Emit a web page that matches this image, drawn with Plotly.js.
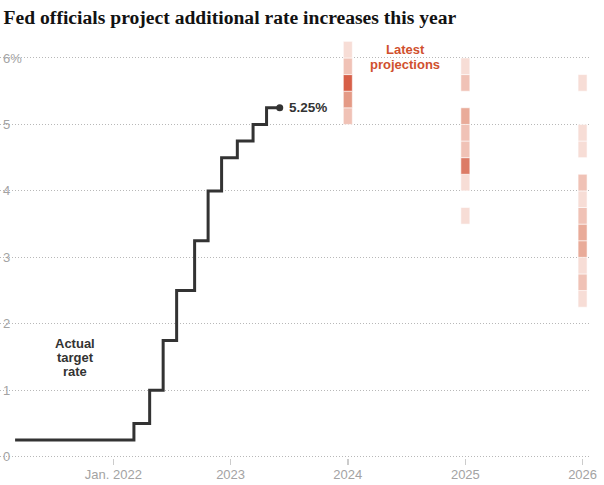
<!DOCTYPE html>
<html>
<head>
<meta charset="utf-8">
<script src="https://cdn.plot.ly/plotly-3.0.1.min.js"></script>
<style>html,body{margin:0;padding:0;background:#fff;}#chart{width:604px;height:485px;}</style>
</head>
<body>
<div id="chart"></div>
<script>
// Actual fed funds target rate (upper bound), step changes
const rateDates = ['2021-03-12','2022-03-17','2022-05-05','2022-06-16','2022-07-28','2022-09-22','2022-11-03','2022-12-15','2023-02-02','2023-03-23','2023-05-04','2023-06-14'];
const rateValues = [0.25, 0.5, 1.0, 1.75, 2.5, 3.25, 4.0, 4.5, 4.75, 5.0, 5.25, 5.25];

// Latest projections: lower bound of each 0.25-pt bin and number of officials
const projColumns = ['2024-01-12', '2025-01-12', '2026-01-12'];
const projBins = [
  [5.0, 5.25, 5.5, 5.75, 6.0],
  [3.5, 4.0, 4.25, 4.5, 4.75, 5.0, 5.5, 5.75],
  [2.25, 2.5, 2.75, 3.0, 3.25, 3.5, 3.75, 4.0, 4.5, 4.75, 5.5]
];
const projCounts = [
  [2, 4, 9, 2, 1],
  [1, 1, 6, 2, 2, 3, 2, 1],
  [1, 2, 1, 3, 3, 2, 1, 2, 1, 1, 1]
];
const binSize = 0.25;

// Axis tick labels
const xTickVals = ['2022-01-12', '2023-01-12', '2024-01-12', '2025-01-12', '2026-01-12'];
const xTickText = ['Jan. 2022', '2023', '2024', '2025', '2026'];
const yTickVals = [0, 1, 2, 3, 4, 5, 6];
const yTickText = ['0', '1', '2', '3', '4', '5', '6%'];

const DAY = 86400000;
const traces = [];

projColumns.forEach((col, i) => {
  traces.push({
    type: 'bar',
    x: projBins[i].map(() => col),
    y: projBins[i].map(() => binSize),
    base: projBins[i],
    width: projBins[i].map(() => 28 * DAY),
    marker: {
      color: projCounts[i],
      cmin: 1, cmax: 9,
      colorscale: [[0, '#f7ddd6'], [0.125, '#f0c2b6'], [0.25, '#e9ab99'], [0.375, '#e49a86'], [0.625, '#dc7b66'], [1, '#d75f48']],
      line: {color: 'rgba(255,255,255,0.7)', width: 0.8}
    },
    hoverinfo: 'skip',
    showlegend: false
  });
});

traces.push({
  type: 'scatter', mode: 'lines',
  x: rateDates, y: rateValues,
  line: {shape: 'hv', color: '#333333', width: 3},
  hoverinfo: 'skip', showlegend: false
});
traces.push({
  type: 'scatter', mode: 'markers',
  x: [rateDates[rateDates.length - 1]], y: [rateValues[rateValues.length - 1]],
  marker: {color: '#333333', size: 7},
  hoverinfo: 'skip', showlegend: false
});

const tickFont = {family: 'Liberation Sans, Arial, sans-serif', size: 13, color: '#a3a3a3'};
const labelFont = {family: 'Liberation Sans, Arial, sans-serif', size: 13, color: '#333333', weight: 700};
const projFont = {family: 'Liberation Sans, Arial, sans-serif', size: 13, color: '#d0502e', weight: 700};

function label(x, y, text, font) {
  return {x: x, y: y, xref: 'x', yref: 'y', text: text, showarrow: false,
          xanchor: 'center', yanchor: 'middle', align: 'center', font: font};
}

const layout = {
  width: 604, height: 485,
  margin: {l: 0, r: 15, t: 39, b: 20},
  paper_bgcolor: '#ffffff', plot_bgcolor: '#ffffff',
  barmode: 'overlay',
  title: {
    text: 'Fed officials project additional rate increases this year',
    font: {family: 'Liberation Serif, Times New Roman, serif', size: 19.6, color: '#121212', weight: 700},
    x: 0.006, xref: 'container', xanchor: 'left',
    y: 0.979, yref: 'container', yanchor: 'top'
  },
  xaxis: {
    type: 'date',
    range: ['2021-01-24', '2026-02-01'],
    showgrid: false, zeroline: false, showline: false,
    tickmode: 'array', tickvals: xTickVals, ticktext: xTickText,
    ticks: 'inside', ticklen: 6, tickwidth: 1.5, tickcolor: '#cccccc',
    tickfont: tickFont, fixedrange: true
  },
  yaxis: {
    range: [-0.125, 6.2855],
    tickmode: 'array', tickvals: yTickVals, ticktext: yTickText,
    ticklabelposition: 'inside', tickfont: tickFont,
    showgrid: true, gridcolor: '#b8b8b8', gridwidth: 1, griddash: '1px,2px',
    zeroline: false, showline: false, ticks: '', fixedrange: true
  },
  annotations: [
    {x: rateDates[rateDates.length - 1], y: rateValues[rateValues.length - 1], xref: 'x', yref: 'y',
     text: '5.25%', showarrow: false, xanchor: 'left', yanchor: 'middle', xshift: 7,
     font: {family: 'Liberation Sans, Arial, sans-serif', size: 13.5, color: '#333333', weight: 700}},
    label('2021-09-15', 1.71, 'Actual', labelFont),
    label('2021-09-15', 1.50, 'target', labelFont),
    label('2021-09-15', 1.28, 'rate', labelFont),
    label('2024-07-09', 6.13, 'Latest', projFont),
    label('2024-07-09', 5.905, 'projections', projFont)
  ]
};

Plotly.newPlot('chart', traces, layout, {displayModeBar: false, staticPlot: true});
</script>
</body>
</html>
